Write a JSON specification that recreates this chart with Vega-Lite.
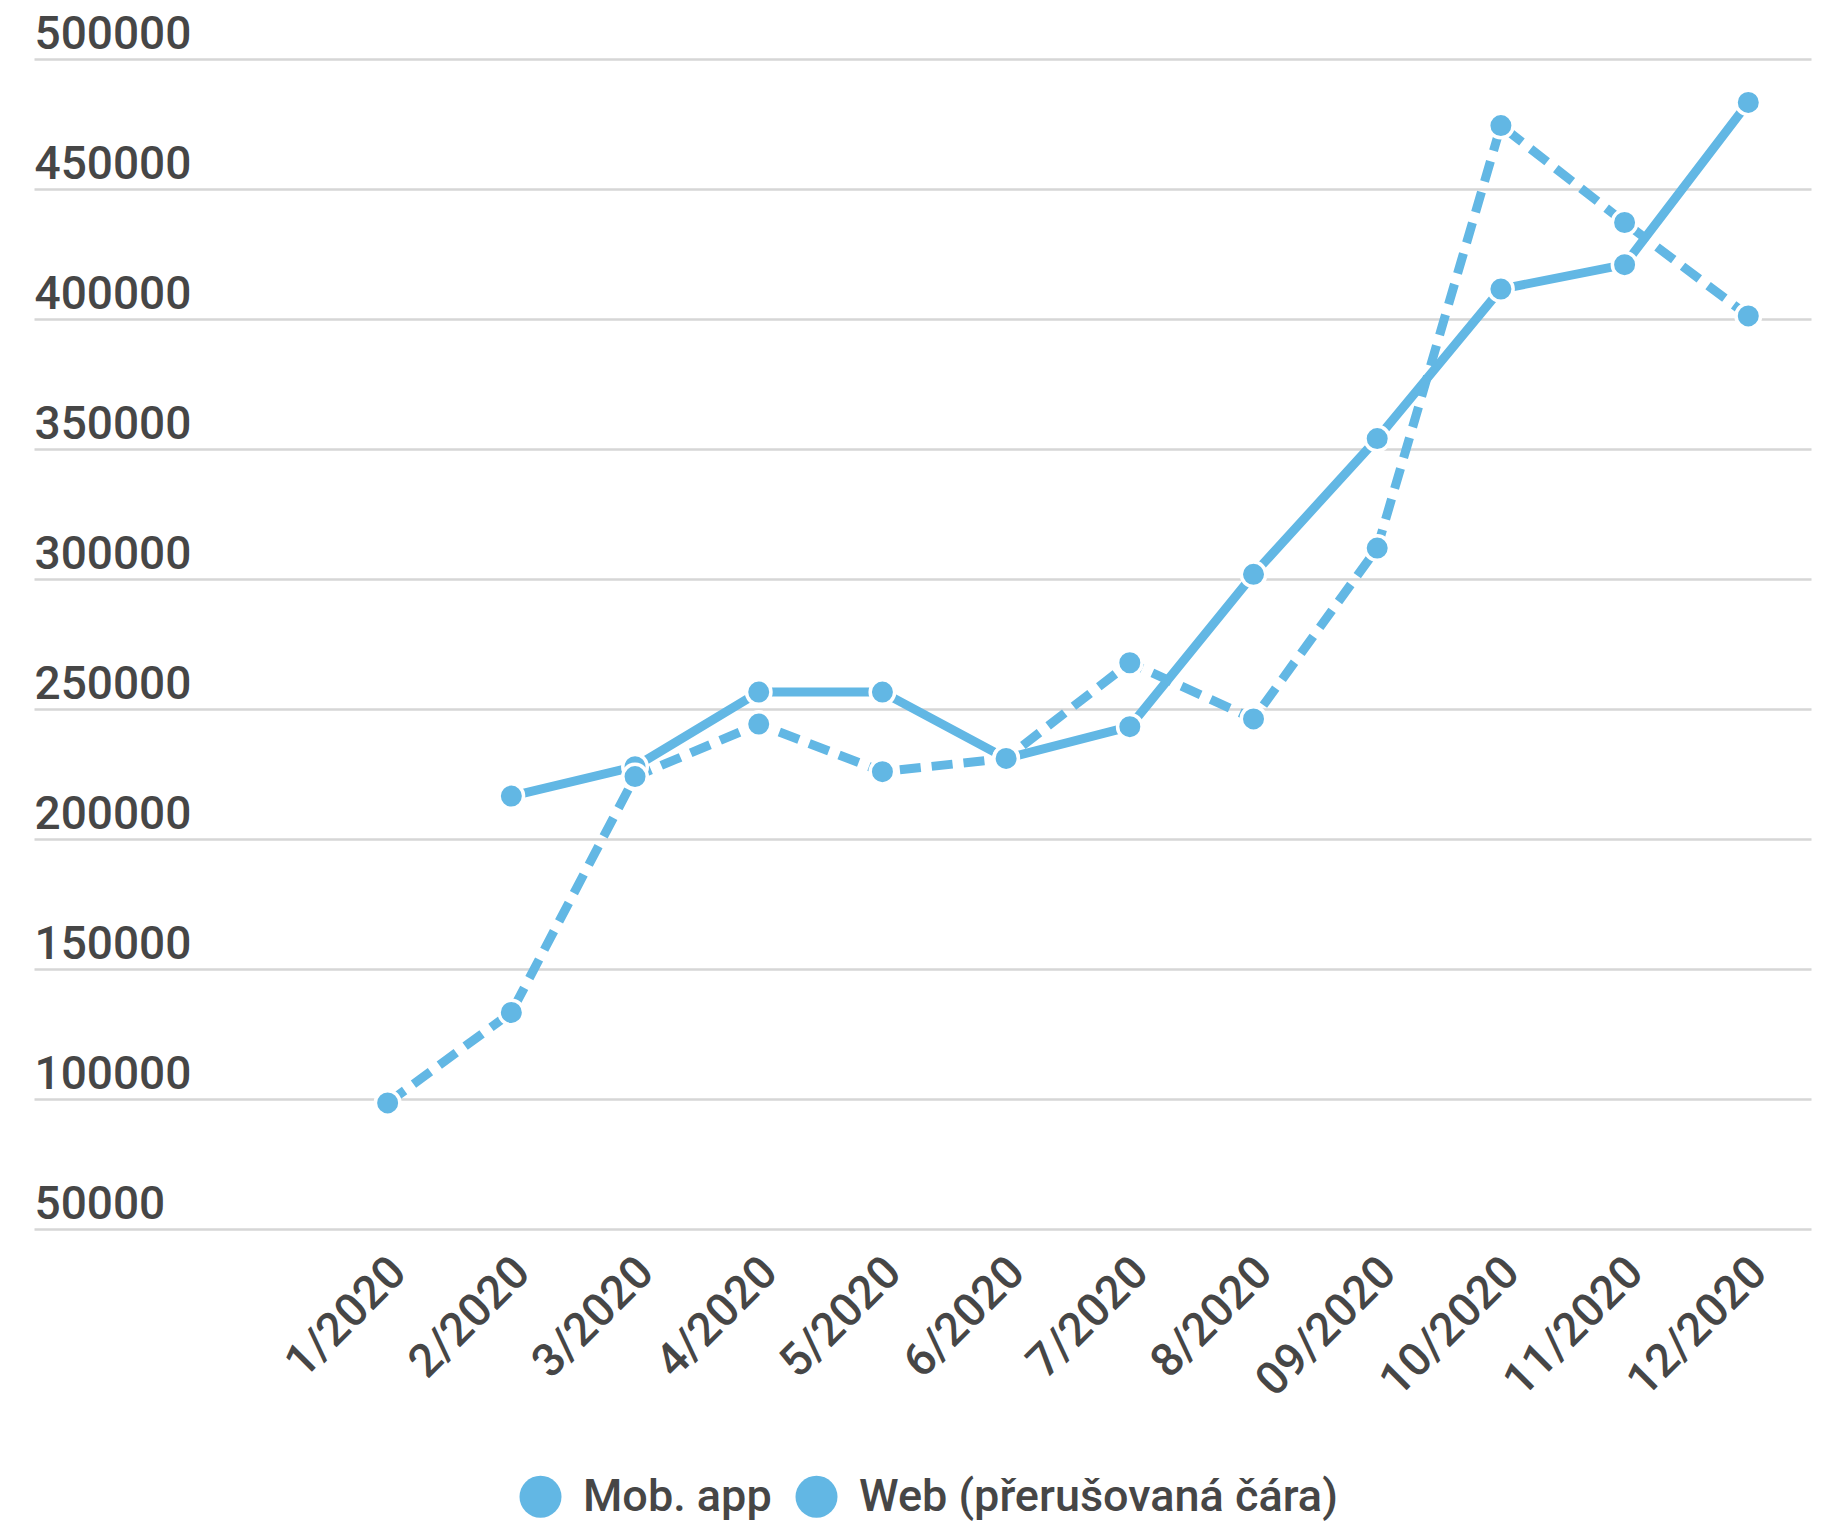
{
  "$schema": "https://vega.github.io/schema/vega-lite/v6.json",
  "autosize": {"type": "none"},
  "padding": {"left": 34, "top": 59, "right": 27, "bottom": 294},
  "width": 1777,
  "height": 1170,
  "background": "white",
  "config": {
    "view": {"stroke": null},
    "font": "Roboto",
    "axis": {"labelFont": "Roboto", "labelColor": "#464646", "labelFontWeight": 500},
    "legend": {"labelFont": "Roboto", "labelColor": "#464646", "labelFontWeight": 500}
  },
  "data": {
    "values": [
      {"month": 2, "series": "Mob. app", "value": 216500},
      {"month": 3, "series": "Mob. app", "value": 227800},
      {"month": 4, "series": "Mob. app", "value": 256500},
      {"month": 5, "series": "Mob. app", "value": 256500},
      {"month": 6, "series": "Mob. app", "value": 231000},
      {"month": 7, "series": "Mob. app", "value": 243200},
      {"month": 8, "series": "Mob. app", "value": 301800},
      {"month": 9, "series": "Mob. app", "value": 354000},
      {"month": 10, "series": "Mob. app", "value": 411500},
      {"month": 11, "series": "Mob. app", "value": 420900},
      {"month": 12, "series": "Mob. app", "value": 483300},
      {"month": 1, "series": "Web (přerušovaná čára)", "value": 98500},
      {"month": 2, "series": "Web (přerušovaná čára)", "value": 133300},
      {"month": 3, "series": "Web (přerušovaná čára)", "value": 224000},
      {"month": 4, "series": "Web (přerušovaná čára)", "value": 244200},
      {"month": 5, "series": "Web (přerušovaná čára)", "value": 225900},
      {"month": 6, "series": "Web (přerušovaná čára)", "value": 231000},
      {"month": 7, "series": "Web (přerušovaná čára)", "value": 267800},
      {"month": 8, "series": "Web (přerušovaná čára)", "value": 246200},
      {"month": 9, "series": "Web (přerušovaná čára)", "value": 311900},
      {"month": 10, "series": "Web (přerušovaná čára)", "value": 474400},
      {"month": 11, "series": "Web (přerušovaná čára)", "value": 437100},
      {"month": 12, "series": "Web (přerušovaná čára)", "value": 401200}
    ]
  },
  "encoding": {
    "x": {
      "field": "month",
      "type": "quantitative",
      "scale": {"domain": [-1.859, 12.507], "nice": false, "zero": false},
      "axis": {
        "title": null,
        "values": [1, 2, 3, 4, 5, 6, 7, 8, 9, 10, 11, 12],
        "labelExpr": "datum.value == 9 ? '09/2020' : datum.value + '/2020'",
        "labelAngle": -45,
        "labelAlign": "right",
        "labelBaseline": "top",
        "labelFontSize": 46,
        "labelPadding": 20,
        "labelOffset": -5,
        "ticks": false,
        "tickSize": 0,
        "domain": false,
        "grid": false,
        "labelOverlap": false,
        "labelBound": false,
        "labelFlush": false
      }
    },
    "y": {
      "field": "value",
      "type": "quantitative",
      "scale": {"domain": [50000, 500000], "nice": false, "zero": false},
      "axis": {
        "title": null,
        "values": [50000, 100000, 150000, 200000, 250000, 300000, 350000, 400000, 450000, 500000],
        "format": "d",
        "labelAlign": "left",
        "labelBaseline": "alphabetic",
        "labelOffset": -11,
        "labelPadding": 0,
        "labelFontSize": 46,
        "ticks": false,
        "tickSize": 0,
        "domain": false,
        "grid": true,
        "gridColor": "#d6d6d6",
        "gridWidth": 2.5,
        "labelOverlap": false,
        "labelBound": false,
        "labelFlush": false
      }
    }
  },
  "layer": [
    {
      "transform": [{"filter": "datum.series == 'Mob. app'"}],
      "mark": {"type": "line", "color": "#62b7e4", "strokeWidth": 9, "strokeCap": "butt", "strokeJoin": "round"}
    },
    {
      "transform": [{"filter": "datum.series != 'Mob. app'"}],
      "mark": {"type": "line", "color": "#62b7e4", "strokeWidth": 9, "strokeCap": "butt", "strokeJoin": "round", "strokeDash": [21, 11]}
    },
    {
      "mark": {"type": "point", "filled": true, "opacity": 1, "size": 600, "stroke": "white", "strokeWidth": 3.5},
      "encoding": {
        "color": {
          "field": "series",
          "type": "nominal",
          "scale": {"domain": ["Mob. app", "Web (přerušovaná čára)"], "range": ["#62b7e4", "#62b7e4"]},
          "legend": {
            "title": null,
            "orient": "none",
            "legendX": 484,
            "legendY": 1415,
            "direction": "horizontal",
            "padding": 0,
            "symbolType": "circle",
            "symbolSize": 1764,
            "symbolStrokeWidth": 0,
            "symbolOpacity": 1,
            "labelFontSize": 45,
            "labelOffset": 20,
            "columnPadding": 22,
            "labelLimit": 1000
          }
        }
      }
    }
  ]
}
